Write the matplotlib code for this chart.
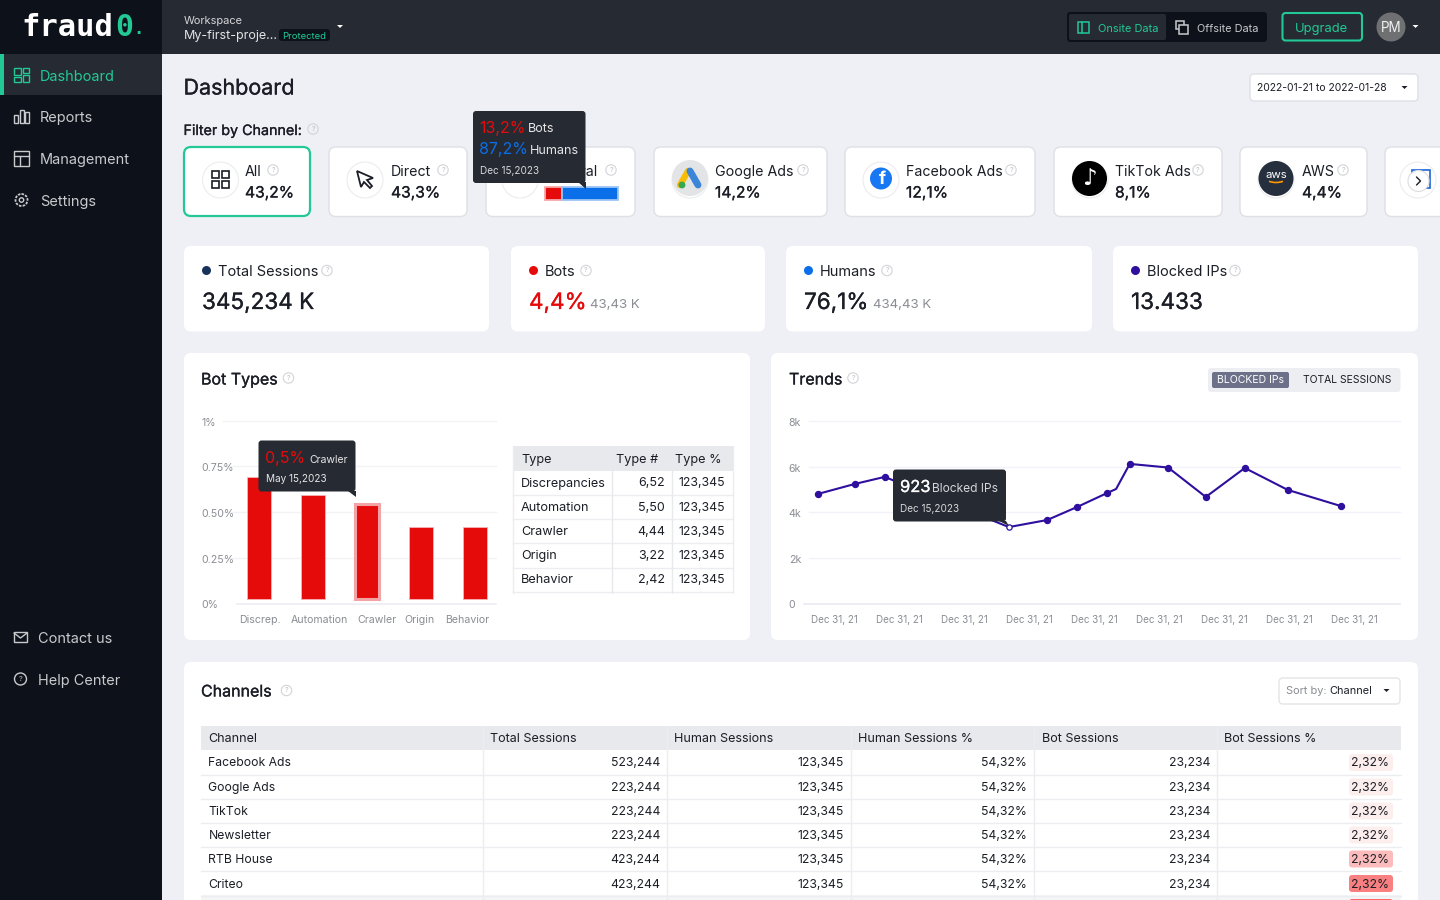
"""
fraud0 dashboard mockup - bot types bars, blocked IP trend, channel tables
"""

import matplotlib
matplotlib.use('Agg')
import matplotlib.pyplot as plt
import matplotlib.patheffects as pe
import numpy as np
from matplotlib.patches import Circle, FancyBboxPatch, Polygon, Rectangle, Arc
from matplotlib.transforms import ScaledTranslation

plt.rcParams['font.family'] = ['Inter', 'DejaVu Sans']

TEAL = '#22c997'
RED = '#e60b0b'
BLUE = '#0a6fe8'
PURPLE = '#2e0f9e'
NAVY = '#17335c'
DARK = '#262a32'
SIDE = '#0d1119'
INK = '#1b1e26'
GREY = '#8a8d93'

# filter cards
channel_names = ['All', 'Direct', 'Referral', 'Google Ads', 'Facebook Ads', 'TikTok Ads', 'AWS']
channel_shares = ['43,2%', '43,3%', None, '14,2%', '12,1%', '8,1%', '4,4%']

# stat cards
stat_titles = ['Total Sessions', 'Bots', 'Humans', 'Blocked IPs']
stat_values = ['345,234 K', '4,4%', '76,1%', '13.433']
stat_subs = [None, '43,43 K', '434,43 K', None]

# bot types
bot_types = ['Discrep.', 'Automation', 'Crawler', 'Origin', 'Behavior']
bot_pct = [0.69, 0.593, 0.544, 0.416, 0.416]
bot_ticks = [0, 0.25, 0.5, 0.75, 1]
bot_tick_labels = ['0%', '0.25%', '0.50%', '0.75%', '1%']
bot_table_rows = ['Discrepancies', 'Automation', 'Crawler', 'Origin', 'Behavior']
bot_table_num = ['6,52', '5,50', '4,44', '3,22', '2,42']
bot_table_pct = ['123,345'] * 5

# trends, x in tick units
trend_x = [-0.25, 0.32, 0.78, 2.69, 3.28, 3.74, 4.2, 4.34, 4.55, 5.14, 5.72, 6.32, 6.98, 7.8]
trend_k = [4.80, 5.24, 5.55, 3.35, 3.66, 4.23, 4.84, 5.02, 6.12, 5.96, 4.67, 5.94, 4.98, 4.27]
trend_no_marker = [7]
trend_hover = 3
trend_ticks = [0, 2, 4, 6, 8]
trend_tick_labels = ['0', '2k', '4k', '6k', '8k']
trend_dates = ['Dec 31, 21'] * 9

# channels table
table_head = ['Channel', 'Total Sessions', 'Human Sessions', 'Human Sessions %', 'Bot Sessions', 'Bot Sessions %']
table_channels = ['Facebook Ads', 'Google Ads', 'TikTok', 'Newsletter', 'RTB House', 'Criteo']
table_total = ['523,244', '223,244', '223,244', '223,244', '423,244', '423,244']
table_human = ['123,345'] * 6
table_human_pct = ['54,32%'] * 6
table_bot = ['23,234'] * 6
table_bot_pct = ['2,32%'] * 6
table_pill = ['#fdeeee', '#fdeeee', '#fdeeee', '#fdeeee', '#fcbcbc', '#f98080']

fig = plt.figure(figsize=(14.4, 9), dpi=100, facecolor='#eff0f5')
ui = fig.add_axes([0, 0, 1, 1], zorder=0)
ui.set_xlim(0, 1440)
ui.set_ylim(900, 0)
ui.axis('off')
over = fig.add_axes([0, 0, 1, 1], zorder=5)
over.set_xlim(0, 1440)
over.set_ylim(900, 0)
over.axis('off')


def px_axes(x0, y0, x1, y1, **kw):
    return fig.add_axes([x0 / 1440, 1 - y1 / 900, (x1 - x0) / 1440, (y1 - y0) / 900], **kw)


def box(x0, y0, x1, y1, fc='white', ec='none', r=6, lw=1, ax=ui, z=1):
    p = FancyBboxPatch((x0, y0), x1 - x0, y1 - y0, boxstyle=f'round,pad=0,rounding_size={r}',
                       fc=fc, ec=ec, lw=lw, zorder=z)
    ax.add_patch(p)


def rect(x0, y0, x1, y1, fc, ax=ui, z=1):
    ax.add_patch(Rectangle((x0, y0), x1 - x0, y1 - y0, fc=fc, ec='none', zorder=z))


def txt(x, y, s, size=14, color=INK, weight='normal', ha='left', ax=ui, z=4, **kw):
    t = ax.text(x, y + 2, s, fontsize=size * 0.72, color=color, ha=ha, va='center', zorder=z, **kw)
    if weight == 'medium':
        # no medium cut of the font, thicken the regular one a little
        t.set_path_effects([pe.withStroke(linewidth=0.2, foreground=color)])
    elif weight != 'normal':
        t.set_fontweight(weight)
    return t


def line(xs, ys, color, lw=1.2, ax=ui, z=3):
    ax.plot(xs, ys, color=color, lw=lw, solid_capstyle='round', zorder=z)


def caret(x, y, color='white', ax=ui):
    ax.add_patch(Polygon([(x - 3, y - 1.5), (x + 3, y - 1.5), (x, y + 1.5)], fc=color, ec='none', zorder=4))


def help_icon(x, y, ax=ui):
    ax.add_patch(Circle((x, y), 5.2, fc='none', ec='#d2d4d8', lw=0.8, zorder=3))
    txt(x, y - 2, '?', 7, '#b5b7bc', ha='center', ax=ax)


def tooltip(x0, y0, x1, y1, tip, ax=over):
    box(x0, y0, x1, y1, fc=DARK, r=3, ax=ax, z=6)
    ax.add_patch(Polygon(tip, fc=DARK, ec='none', zorder=6))


def nudge_down(labels, px):
    for lab in labels:
        lab.set_transform(lab.get_transform() + ScaledTranslation(0, -px / 100, fig.dpi_scale_trans))


# top bar and side bar
rect(0, 0, 162, 900, SIDE)
rect(162, 0, 1440, 54, DARK)
txt(21.5, 25, 'fraud', 30.5, 'white', 'bold', family='DejaVu Sans Mono')
txt(115.5, 25, '0', 30, TEAL, 'bold', family='DejaVu Sans Mono')
txt(133, 27, '.', 17, TEAL, 'bold', family='DejaVu Sans Mono')
txt(184, 18.5, 'Workspace', 11, '#d5d6d9')
txt(184, 34.5, 'My-first-proje...', 12.5, '#e3e4e6')
box(279, 29, 330, 41, fc=SIDE, r=3, z=2)
txt(304.5, 34.5, 'Protected', 9.5, TEAL, ha='center')
caret(340, 26.5)

box(1067, 12, 1267, 42, fc=SIDE, r=3, z=2)
box(1069, 14, 1166, 40, fc=DARK, r=2, z=2)
ui.add_patch(Rectangle((1077.5, 22), 11, 11, fc='none', ec=TEAL, lw=1.1, zorder=3))
line([1081.5, 1081.5], [22, 33], TEAL, 1.1)
txt(1098, 27, 'Onsite Data', 11, TEAL)
ui.add_patch(Rectangle((1175.5, 21), 8, 8, fc='none', ec='#c8c9cc', lw=1.1, zorder=3))
ui.add_patch(Rectangle((1179, 25), 9, 9, fc=SIDE, ec='#c8c9cc', lw=1.1, zorder=3))
txt(1197, 27, 'Offsite Data', 10.9, '#c8c9cc')
box(1282.5, 13, 1362, 40.5, fc='none', ec=TEAL, r=3, lw=1.5, z=2)
txt(1322, 27, 'Upgrade', 13, TEAL, ha='center')
ui.add_patch(Circle((1391, 27), 14.5, fc='#6f7072', ec='none', zorder=3))
txt(1391, 26, 'PM', 13.5, '#f0f0f0', ha='center')
caret(1415.5, 26.5)

rect(0, 54, 162, 95, DARK)
rect(0, 54, 4, 95, TEAL, z=2)
nav_names = ['Dashboard', 'Reports', 'Management', 'Settings']
nav_y = [75, 116, 158, 200]
for name, y, color in zip(nav_names, nav_y, [TEAL, '#c9cacd', '#c9cacd', '#c9cacd']):
    txt(40, y, name, 14.5, color)
for dx, dy, w, h in [(14, 68, 7, 7), (23, 68, 6, 5), (14, 77, 7, 5), (23, 75, 6, 7)]:
    ui.add_patch(Rectangle((dx, dy), w, h, fc='none', ec=TEAL, lw=1, zorder=3))
for dx, dy, h in [(14, 115, 8), (19.5, 110, 13), (25, 112, 11)]:
    ui.add_patch(Rectangle((dx, dy), 4, h, fc='none', ec='#c9cacd', lw=1, zorder=3))
ui.add_patch(Rectangle((14, 151), 15, 15, fc='none', ec='#c9cacd', lw=1, zorder=3))
line([14, 29], [156, 156], '#c9cacd', 1)
line([20, 20], [156, 166], '#c9cacd', 1)
ui.add_patch(Circle((21.5, 200), 6, fc='none', ec='#c9cacd', lw=1.3, ls=(0, (1.4, 0.7)), zorder=3))
ui.add_patch(Circle((21.5, 200), 2.2, fc='none', ec='#c9cacd', lw=1, zorder=3))
txt(38.5, 637, 'Contact us', 14.5, '#c9cacd')
txt(38.5, 678.5, 'Help Center', 14.5, '#c9cacd')
ui.add_patch(Rectangle((14, 632), 13, 10, fc='none', ec='#c9cacd', lw=1, zorder=3))
line([14, 20.5, 27], [633, 638, 633], '#c9cacd', 1)
ui.add_patch(Circle((20.5, 679), 6, fc='none', ec='#c9cacd', lw=1, zorder=3))
txt(20.5, 677, '?', 7.5, '#c9cacd', ha='center')

# heading
txt(183.5, 86.5, 'Dashboard', 21.5, INK, 'medium')
box(1250, 74, 1418, 101, ec='#dfe0e4', r=4)
txt(1257, 86, '2022-01-21 to 2022-01-28', 10.4, INK)
caret(1404.5, 87.5, INK)
txt(183.5, 129, 'Filter by Channel:', 14.3, INK, 'medium')
help_icon(313, 129)

# filter cards
card_x0 = [184, 329, 486, 654, 845, 1054, 1240, 1385]
card_x1 = [310, 467, 635, 827, 1035, 1222, 1367, 1460]
circle_x = [220.5, 365, 520, 690, 881, 1090, 1276, 1418]
text_x = [245, 391, 545, 715, 906, 1115, 1302]
help_x = [273, 443, 611, 803, 1011, 1198, 1343]
for i, (x0, x1, cx) in enumerate(zip(card_x0, card_x1, circle_x)):
    if i == 0:
        box(x0, 147, x1, 216, ec=TEAL, r=7, lw=1.6)
    else:
        box(x0, 147, x1, 216.5, ec='#dfe0e4', r=7)
    ui.add_patch(Circle((cx, 180), 18, fc='white', ec='#ececee', lw=0.8, zorder=2))
for i, name in enumerate(channel_names):
    txt(text_x[i], 170, name, 14.2, INK)
    help_icon(help_x[i], 170)
    if channel_shares[i]:
        txt(text_x[i], 191, channel_shares[i], 15.6, INK, 'medium')
for sx in (212, 222):
    for sy in (171, 181):
        ui.add_patch(Rectangle((sx, sy), 7, 6.5, fc='none', ec=INK, lw=1.2, zorder=3))
ui.add_patch(Polygon([(357, 171), (373, 178), (367, 180), (372, 186), (370, 188), (364, 182), (361, 187)],
                     fc='white', ec=INK, lw=1.3, zorder=3))
# google ads
ui.add_patch(Circle((690, 178), 18, fc='#e3e4e6', ec='none', zorder=2))
line([688, 680], [171, 185], '#fbbc04', 4.5)
line([690, 698], [171, 185], '#3b86d8', 5)
ui.add_patch(Circle((682, 185), 3.4, fc='#34a853', ec='none', zorder=4))
# facebook
ui.add_patch(Circle((881, 178.5), 11, fc='#1877f2', ec='none', zorder=3))
txt(882, 178, 'f', 18, 'white', 'bold', ha='center')
# tiktok
ui.add_patch(Circle((1089.5, 178.5), 17.5, fc='black', ec='none', zorder=3))
txt(1089.5, 176.5, '♪', 23, 'white', 'bold', ha='center', family='DejaVu Sans')
# aws
ui.add_patch(Circle((1276, 178.5), 17.5, fc='#252f3e', ec='none', zorder=3))
txt(1276, 173.5, 'aws', 11.5, 'white', ha='center')
ui.add_patch(Arc((1276, 178), 20, 9, theta1=25, theta2=155, ec='#ff9900', lw=1.2, zorder=4))
# last card, partly scrolled
ui.add_patch(Rectangle((1412, 170), 18, 18, fc='none', ec='#1a66d6', lw=1.2, zorder=3))
ui.add_patch(Circle((1418.5, 181), 10.5, fc='white', ec='#dcdde0', lw=0.8, zorder=4))
line([1416.5, 1420.5, 1416.5], [177, 181, 185], INK, 1, z=5)

# referral split bar
ui.add_patch(Rectangle((545, 186.5), 17, 13, fc=RED, ec='#f5a9a9', lw=1.3, zorder=3))
ui.add_patch(Rectangle((562, 186.5), 56, 13, fc=BLUE, ec='#9cc5f5', lw=1.3, zorder=3))
tooltip(473, 111, 585.5, 183, [(578, 182), (585.5, 182), (585.5, 189)])
txt(479.5, 126.5, '13,2%', 16, RED, ax=over, z=7)
txt(528, 127.5, 'Bots', 12.5, '#e6e6e8', ax=over, z=7)
txt(479.5, 147.5, '87,2%', 16, BLUE, ax=over, z=7)
txt(530, 148.5, 'Humans', 12.5, '#e6e6e8', ax=over, z=7)
txt(479.5, 169, 'Dec 15,2023', 10, '#d5d6d9', ax=over, z=7)

# stat cards
stat_x0 = [184, 511, 786, 1113]
stat_x1 = [489, 765, 1092, 1418]
stat_dot = [NAVY, RED, BLUE, PURPLE]
stat_color = [INK, RED, INK, INK]
stat_sub_x = [0, 590, 873, 0]
stat_help_x = [327, 586, 887, 1235]
for i, title in enumerate(stat_titles):
    x0 = stat_x0[i]
    box(x0, 246, stat_x1[i], 331.5, r=7)
    ui.add_patch(Circle((x0 + 22.5, 270.5), 4.5, fc=stat_dot[i], ec='none', zorder=3))
    txt(x0 + 34, 270, title, 14.5, INK)
    help_icon(stat_help_x[i], 270.5)
    txt(x0 + 18, 301, stat_values[i], 22.5, stat_color[i], 'medium')
    if stat_subs[i]:
        txt(stat_sub_x[i], 303.5, stat_subs[i], 13.3, GREY)

# panels
box(184, 353, 750, 640, r=7)
box(771, 353, 1418, 640, r=7)
box(184, 662, 1418, 930, r=7)
txt(201, 378, 'Bot Types', 16, INK, 'medium')
help_icon(288.5, 378)
txt(789, 378, 'Trends', 16, INK, 'medium')
help_icon(853, 378)
txt(201, 690, 'Channels', 16, INK, 'medium')
help_icon(286.5, 690.5)

# bot types chart
ax_bot = px_axes(223, 420.5, 496, 603.5, zorder=2)
ax_bot.patch.set_alpha(0)
bar_base = 0.022
xs = np.arange(len(bot_pct))
heights = [v - bar_base for v in bot_pct]
edge = ['#f6b3b3', '#f6b3b3', '#f3a3a3', '#f6b3b3', '#f6b3b3']
widths = [0.6, 0.6, 2.2, 0.6, 0.6]
ax_bot.bar(xs, heights, bottom=bar_base, width=0.433, color=RED, edgecolor=edge, linewidth=widths, zorder=3)
ax_bot.set_xlim(-0.667, 4.39)
ax_bot.set_ylim(0, 1)
for t in bot_ticks[1:]:
    ax_bot.axhline(t, color='#f2f3f5', lw=1, zorder=1, clip_on=False)
ax_bot.plot([0.05, 1], [0, 0], transform=ax_bot.transAxes, color='#eceef1', lw=1.2, clip_on=False, zorder=1)
ax_bot.set_yticks(bot_ticks)
ax_bot.set_yticklabels(bot_tick_labels, ha='left', fontsize=7.6, color=GREY)
ax_bot.set_xticks([0.02, 1.11, 2.19, 2.98, 3.85])
ax_bot.set_xticklabels(bot_types, fontsize=7.6, color=GREY)
ax_bot.tick_params(axis='y', length=0, pad=15.5)
ax_bot.tick_params(axis='x', length=0, pad=8)
nudge_down(ax_bot.get_yticklabels(), 1)
for s in ax_bot.spines.values():
    s.set_visible(False)

tooltip(258.5, 440.5, 355.5, 491.5, [(348, 491), (355.5, 491), (355.5, 497)])
txt(265.5, 456, '0,5%', 16, RED, ax=over, z=7)
txt(309, 458, 'Crawler', 10.5, '#e6e6e8', ax=over, z=7)
txt(265.5, 476.5, 'May 15,2023', 10, '#e6e6e8', ax=over, z=7)

# bot types table
tx = [513, 612, 672, 733]
rect(tx[0], 446, tx[3], 471, '#e8e9ed')
txt(tx[0] + 8, 458, 'Type', 12.7, INK)
txt(tx[1] + 4, 458, 'Type #', 12.7, INK)
txt(tx[2] + 3, 458, 'Type %', 12.7, INK)
for i, name in enumerate(bot_table_rows):
    y = 483 + i * 24.2
    txt(tx[0] + 8, y - 1.5, name, 12.7, INK)
    txt(tx[2] - 7, y - 1.5, bot_table_num[i], 12.5, INK, ha='right')
    txt(tx[3] - 8, y - 1.5, bot_table_pct[i], 12.3, INK, ha='right')
    line([tx[0], tx[3]], [y + 12, y + 12], '#ecedf0', 1)
for x in tx[1:3]:
    line([x, x], [446, 593], '#e8e9ec', 1)
line([tx[0], tx[0]], [446, 593], '#ecedf0', 1)
line([tx[3], tx[3]], [446, 593], '#ecedf0', 1)

# trends
box(1208, 368, 1400.5, 392, fc='#eceef2', r=3)
box(1212, 372, 1289, 388, fc='#6c7088', r=2, z=2)
txt(1250.5, 378, 'BLOCKED IPs', 10.5, 'white', ha='center')
txt(1347, 378, 'TOTAL SESSIONS', 10.4, INK, ha='center')

ax_tr = px_axes(804, 421, 1400, 603.5, zorder=2)
ax_tr.patch.set_alpha(0)
ax_tr.plot(trend_x, trend_k, color=PURPLE, lw=1.5, zorder=3)
shown = [i for i in range(len(trend_x)) if i not in trend_no_marker and i != trend_hover]
ax_tr.plot([trend_x[i] for i in shown], [trend_k[i] for i in shown], 'o', ms=4.3, color=PURPLE, zorder=4)
ax_tr.plot(trend_x[trend_hover], trend_k[trend_hover], 'o', ms=3.8, mfc='white', mec=PURPLE, mew=0.9, zorder=4)
ax_tr.set_xlim((804 - 834) / 65, (1400 - 834) / 65)
ax_tr.set_ylim(0, 8)
for t in trend_ticks[1:]:
    ax_tr.plot([0.008, 1], [t / 8, t / 8], transform=ax_tr.transAxes, color='#f1f2fa', lw=1, clip_on=False, zorder=1)
ax_tr.plot([0, 1], [0, 0], transform=ax_tr.transAxes, color='#e9ebf0', lw=1.2, clip_on=False, zorder=1)
ax_tr.set_yticks(trend_ticks)
ax_tr.set_yticklabels(trend_tick_labels, ha='left', fontsize=7.6, color=GREY)
ax_tr.set_xticks(np.arange(len(trend_dates)))
ax_tr.set_xticklabels(trend_dates, fontsize=7.1, color=GREY)
ax_tr.tick_params(axis='y', length=0, pad=11)
ax_tr.tick_params(axis='x', length=0, pad=8)
nudge_down(ax_tr.get_yticklabels(), 1)
for s in ax_tr.spines.values():
    s.set_visible(False)

tooltip(893, 469.5, 1006, 521.5, [(999, 521), (1006, 521), (1009, 526)])
txt(900, 485.5, '923', 16.5, 'white', 'medium', ax=over, z=7)
txt(932, 486.5, 'Blocked IPs', 12, '#d5d6d9', ax=over, z=7)
txt(900, 506.5, 'Dec 15,2023', 10, '#d5d6d9', ax=over, z=7)

# sort box
box(1279, 678, 1400, 704, ec='#e4e5e8', r=4)
txt(1286, 689, 'Sort by:', 11, GREY)
txt(1329, 689, 'Channel', 11, INK)
caret(1386.5, 690.5, INK)

# channels table
cols = [201, 483, 667, 851, 1034, 1217, 1401]
rect(cols[0], 726, cols[-1], 750, '#e8e9ed')
for i, head in enumerate(table_head):
    txt(cols[i] + 7.5, 737.5, head, 12.6, INK)
row_y = [762.5, 787, 811, 835, 859, 883.5]
for y in row_y:
    line([cols[0], cols[-1]], [y + 12, y + 12], '#ecedf0', 1)
for x in cols[1:-1]:
    line([x, x], [726, 900], '#ecedf0', 1)
for i, y in enumerate(row_y):
    txt(cols[0] + 7.5, y - 1, table_channels[i], 12.2, INK)
    txt(cols[2] - 7, y - 1, table_total[i], 12.2, INK, ha='right')
    txt(cols[3] - 7, y - 1, table_human[i], 12.2, INK, ha='right')
    txt(cols[4] - 7, y - 1, table_human_pct[i], 12.2, INK, ha='right')
    txt(cols[5] - 7, y - 1, table_bot[i], 12.2, INK, ha='right')
    box(1349, y - 8.5, 1393, y + 8.5, fc=table_pill[i], r=3, z=2)
    txt(1389, y - 1, table_bot_pct[i], 12.2, INK, ha='right')
rect(cols[0], 895, cols[-1], 900, '#f4f5f6')
box(1349, 899, 1393, 912, fc='#f66', r=3, z=2)

fig.savefig('out.png', dpi=100, facecolor=fig.get_facecolor())
